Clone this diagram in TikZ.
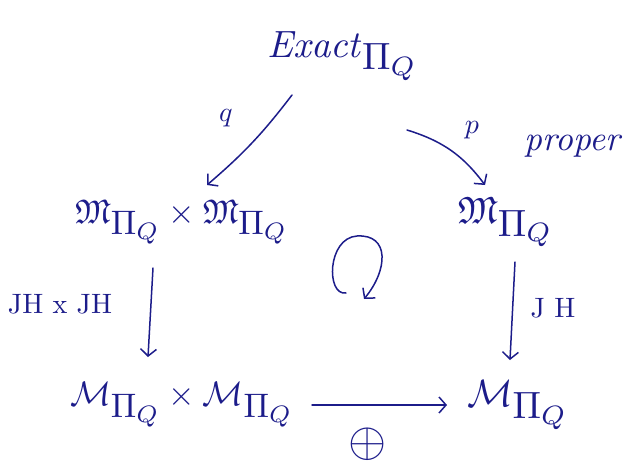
\documentclass[tikz,border=0pt]{standalone}
\usepackage{amssymb}
\usetikzlibrary{arrows.meta}
\definecolor{ink}{RGB}{28,28,138}
\begin{document}
\begin{tikzpicture}[x=1pt,y=-1pt,
  obj/.style={color=ink,inner sep=0pt,scale=3.8},
  pair/.style={color=ink,inner sep=0pt,scale=3.4},
  lbl/.style={color=ink,inner sep=0pt,scale=2.8},
  big/.style={color=ink,inner sep=0pt,scale=3.5},
  huge/.style={color=ink,inner sep=0pt,scale=4.9},
  arr/.style={draw=ink,line width=1.5pt,line cap=round,line join=round,
    -{Straight Barb[length=7pt,width=16pt,line width=1.5pt]}}]
\useasboundingbox (0,0) rectangle (633,461);
% objects
\node[obj] (exact) at (343,56) {\textit{Exact}$_{\textstyle\Pi_Q}$};
\node[pair] (mm) at (182,222) {$\mathfrak{M}_{\textstyle\Pi_Q}\times\mathfrak{M}_{\textstyle\Pi_Q}$};
\node[obj] (m) at (506,222) {$\mathfrak{M}_{\textstyle\Pi_Q}$};
\node[pair] (ll) at (182,405) {$\mathcal{M}_{\textstyle\Pi_Q}\times\mathcal{M}_{\textstyle\Pi_Q}$};
\node[obj] (l) at (518,405) {$\mathcal{M}_{\textstyle\Pi_Q}$};
% labels
\node[lbl] (q) at (226,118) {$q$};
\node[lbl] (p) at (472,130) {$p$};
\node[big] (proper) at (574,146) {\textit{proper}};
\node[lbl] (jhjh) at (60,304) {JH x JH};
\node[lbl] (jh) at (553,308) {J H};
\node[huge] (oplus) at (368,444) {$\oplus$};
% arrows
\draw[arr] ([shift={(-51,39)}]exact.center) to[bend left=6] ([shift={(25,-37)}]mm.center);
\draw[arr] ([shift={(64,74)}]exact.center) to[bend left=18] ([shift={(-21,-37)}]m.center);
\draw[arr] ([shift={(-29,46)}]mm.center) -- ([shift={(-34,-48)}]ll.center);
\draw[arr] ([shift={(9,40)}]m.center) -- ([shift={(-8,-45)}]l.center);
\draw[arr] ([shift={(130,0)}]ll.center) -- ([shift={(-71,0)}]l.center);
% commutation loop
\draw[arr] (346,293) .. controls (326,296) and (327,238) .. (357,236)
  .. controls (390,234) and (388,270) .. (364,299);
\end{tikzpicture}
\end{document}
